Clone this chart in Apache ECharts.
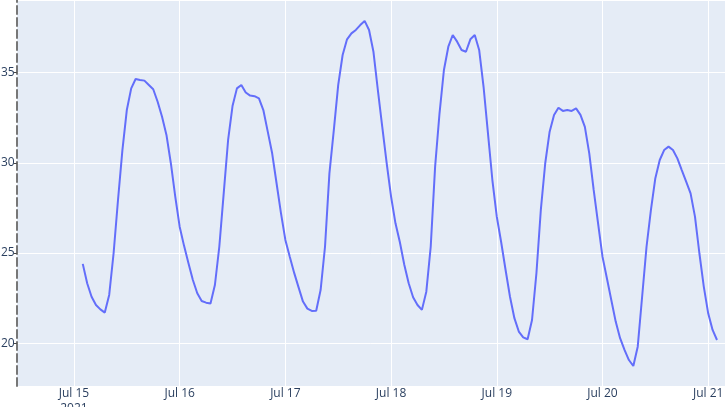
<!DOCTYPE html>
<html>
<head>
<meta charset="utf-8">
<script src="https://cdn.jsdelivr.net/npm/echarts@6/dist/echarts.min.js"></script>
<style>
html,body{margin:0;padding:0;background:#fff;}
#chart{width:725px;height:407px;}
</style>
</head>
<body>
<div id="chart"></div>
<script>
// Hourly readings starting 2021-07-15 02:00 (UTC)
const startYear = 2021, startMonth = 6, startDay = 15, startHour = 2;
const values = [
  24.40,23.33,22.58,22.12,21.88,21.70,22.68,24.99,27.94,30.71,32.93,34.13,34.65,34.60,34.56,34.32,34.08,33.39,32.56,31.55,29.98,28.13,26.46,
  25.40,24.43,23.51,22.77,22.34,22.25,22.20,23.23,25.35,28.31,31.27,33.15,34.13,34.32,33.90,33.73,33.70,33.58,32.93,31.73,30.53,28.87,27.21,25.73,
  24.80,23.90,23.10,22.31,21.92,21.79,21.80,22.95,25.35,29.42,31.82,34.32,35.98,36.85,37.18,37.37,37.64,37.87,37.37,36.16,34.04,32.00,29.98,28.13,
  26.65,25.60,24.35,23.33,22.55,22.12,21.85,22.86,25.35,29.79,32.75,35.15,36.44,37.09,36.72,36.26,36.16,36.85,37.09,36.26,34.22,31.64,29.05,27.02,
  25.60,24.06,22.58,21.39,20.65,20.33,20.22,21.29,23.88,27.39,29.98,31.73,32.66,33.06,32.88,32.93,32.88,33.02,32.66,32.00,30.53,28.50,26.65,24.80,
  23.60,22.40,21.20,20.28,19.63,19.07,18.74,19.81,22.58,25.35,27.39,29.15,30.16,30.71,30.90,30.71,30.25,29.60,28.96,28.31,27.02,24.99,23.14,21.66,20.74,20.18
];
const monthNames = ['Jan','Feb','Mar','Apr','May','Jun','Jul','Aug','Sep','Oct','Nov','Dec'];
const firstTickYear = '2021';
const xMin = Date.UTC(2021, 6, 14, 11, 0);
const xMax = Date.UTC(2021, 6, 21, 3, 49);
const yMin = 17.63, yMax = 39.03;

const HOUR = 3600 * 1000;
const t0 = Date.UTC(startYear, startMonth, startDay, startHour);
const seriesData = values.map((v, i) => [t0 + i * HOUR, v]);

const chart = echarts.init(document.getElementById('chart'), null, {renderer: 'canvas'});
chart.setOption({
  useUTC: true,
  animation: false,
  backgroundColor: '#ffffff',
  grid: {
    left: 16.7, right: 0, top: 0, bottom: 21,
    containLabel: false,
    outerBoundsMode: 'none',
    show: true, backgroundColor: '#e5ecf6', borderWidth: 0
  },
  xAxis: {
    type: 'time',
    min: xMin, max: xMax,
    minInterval: 24 * HOUR, maxInterval: 24 * HOUR,
    axisLine: {show: false},
    axisTick: {show: false},
    splitLine: {show: true, lineStyle: {color: '#ffffff', width: 1}},
    axisLabel: {
      showMinLabel: false, showMaxLabel: false,
      color: '#2a3f5f', fontFamily: 'Open Sans', fontSize: 12,
      margin: 0, lineHeight: 15,
      formatter: function (val) {
        const d = new Date(val);
        const s = monthNames[d.getUTCMonth()] + ' ' + d.getUTCDate();
        if (d.getUTCMonth() === 6 && d.getUTCDate() === 15) return s + '\n' + firstTickYear;
        return s;
      }
    }
  },
  yAxis: {
    type: 'value',
    min: yMin, max: yMax,
    axisLine: {show: true, lineStyle: {color: '#777777', width: 2, type: [8, 4]}},
    axisTick: {show: true, length: 3, lineStyle: {color: '#444444', width: 1}},
    splitLine: {show: true, lineStyle: {color: '#ffffff', width: 1}},
    axisLabel: {
      showMinLabel: false, showMaxLabel: false,
      color: '#2a3f5f', fontFamily: 'Open Sans', fontSize: 12, margin: 2
    }
  },
  series: [{
    type: 'line',
    data: seriesData,
    showSymbol: false,
    symbol: 'none',
    smooth: false,
    lineStyle: {color: '#636efa', width: 2},
    itemStyle: {color: '#636efa'}
  }]
});
</script>
</body>
</html>
